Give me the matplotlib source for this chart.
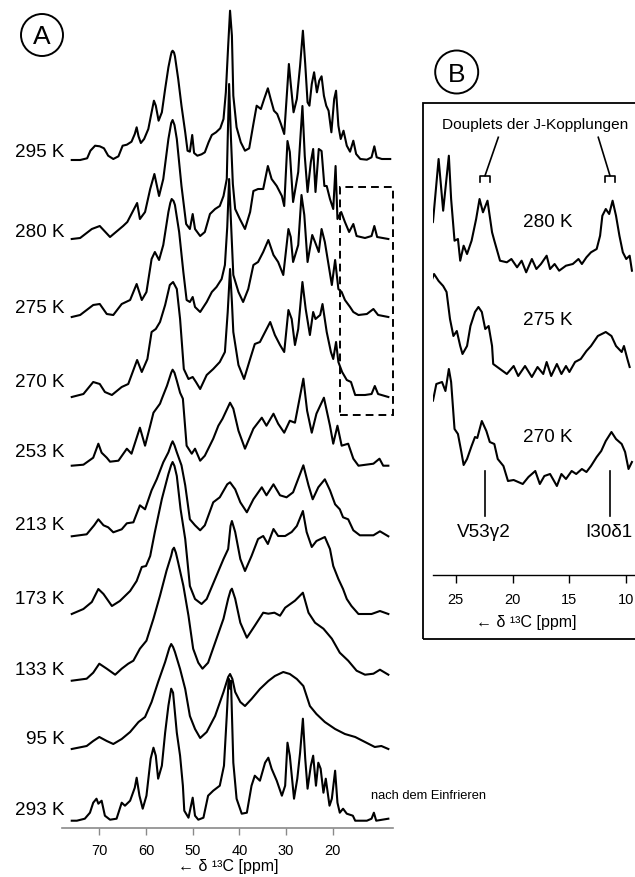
"""
Temperature series of 13C CP-MAS spectra (panel A) with zoomed methyl region (panel B).
"""
import matplotlib
matplotlib.use("Agg")
import matplotlib.pyplot as plt
from matplotlib.patches import Ellipse, Rectangle

plt.rcParams["font.family"] = ["Liberation Sans", "DejaVu Sans"]

# Data: (ppm, intensity), panel A
spec_295 = [(75.9, 0), (74.1, 0), (72.6, 1.7), (71.9, 9.3), (70.9, 14.3), (69.9, 13.7), (69.0, 11.7),
            (68.1, 4.3), (67.0, 1), (65.9, 3.7), (65.0, 14.3), (64.1, 15.3), (63.1, 18.3), (62.4, 26),
            (62.0, 32.7), (61.6, 23.7), (61.1, 17), (60.4, 21), (59.5, 31), (58.8, 47.7), (58.3, 59.3),
            (57.9, 54.3), (57.3, 39.3), (56.6, 47.7), (55.9, 71), (55.2, 92.7), (54.7, 104.3), (54.5, 108),
            (54.3, 109.3), (54.0, 107.5), (53.8, 103.7), (53.1, 81), (52.4, 54.3), (51.6, 27.7), (51.1, 9.3),
            (50.6, 8.3), (50.1, 25), (49.7, 7), (49.0, 4.3), (48.1, 5.7), (47.4, 7.7), (46.6, 17.7),
            (45.9, 25), (45.0, 27.7), (44.1, 31.7), (43.4, 41), (42.9, 67.7), (42.4, 114.3), (42.0, 149.3),
            (41.6, 124.3), (41.3, 64.3), (40.6, 32.7), (39.7, 17.7), (38.8, 9.3), (37.9, 11.7), (37.0, 36),
            (36.3, 54.3), (35.4, 51), (34.7, 61), (33.9, 71.7), (33.3, 61), (32.6, 49.3), (31.9, 46),
            (31.1, 36), (30.4, 26), (29.9, 61), (29.4, 96), (29.0, 76), (28.4, 47.7), (27.7, 61), (27.0, 94.3),
            (26.4, 129.3), (25.9, 96), (25.4, 57.7), (25.0, 54.3), (24.5, 76), (24.0, 87.7), (23.4, 67.7),
            (22.9, 79.3), (22.4, 83.7), (21.9, 64.3), (21.4, 54.3), (20.9, 49.3), (20.3, 27.7), (19.7, 61),
            (19.3, 69.3), (18.8, 34.3), (18.3, 21), (17.7, 29.3), (17.0, 14.3), (16.3, 8.3), (15.6, 19.3),
            (15.0, 6), (14.1, 1), (12.7, 0.3), (11.7, 2.7), (11.1, 13.7), (10.6, 2.7), (9.5, 1), (7.7, 1)]

spec_280 = [(75.9, 0), (74.1, 1), (71.6, 10), (69.9, 13), (67.7, 2), (64.9, 13), (64.0, 17), (61.9, 36),
            (61.3, 20), (60.2, 27), (59.1, 50), (58.2, 65), (57.2, 43), (56.3, 60), (55.2, 100), (54.6, 116),
            (54.3, 119), (53.9, 114), (53.4, 100), (52.4, 53), (51.4, 15), (50.6, 10), (50.0, 25), (49.5, 10),
            (48.4, 3), (47.4, 7), (46.3, 25), (45.2, 30), (44.2, 33), (43.4, 43), (42.7, 60), (42.5, 100),
            (42.2, 155), (41.8, 100), (41.4, 55), (40.9, 30), (39.9, 20), (38.8, 10), (37.7, 27), (37.0, 48),
            (36.0, 50), (34.9, 50), (33.9, 73), (33.1, 60), (32.0, 53), (30.9, 43), (30.4, 33), (29.7, 98),
            (29.2, 87), (28.5, 37), (27.4, 67), (26.5, 133), (26.0, 83), (25.4, 47), (24.7, 77), (24.2, 90),
            (23.7, 47), (23.0, 90), (22.4, 88), (21.8, 53), (21.3, 53), (20.6, 40), (19.9, 30), (19.4, 73),
            (19.0, 20), (18.2, 27), (17.4, 17), (16.5, 7), (15.6, 15), (14.9, 3), (13.1, 1), (11.7, 3),
            (11.1, 13), (10.5, 2), (8.1, 0)]

spec_275 = [(75.9, 0), (74.1, 2), (71.3, 12), (69.9, 13), (68.4, 3), (67.0, 2), (65.2, 13), (63.4, 17),
            (62.0, 33), (60.9, 17), (59.9, 25), (58.8, 58), (58.1, 65), (57.2, 57), (56.3, 72), (55.2, 105),
            (54.8, 114), (54.5, 118), (54.1, 116), (53.8, 112), (52.9, 85), (52.0, 45), (51.3, 17), (50.6, 15),
            (50.0, 20), (49.5, 10), (48.4, 5), (47.0, 15), (45.9, 25), (44.9, 30), (43.8, 38), (43.1, 52),
            (42.6, 90), (42.2, 138), (41.8, 95), (41.3, 42), (40.2, 25), (39.2, 15), (38.1, 28), (37.0, 52),
            (36.0, 55), (34.9, 65), (33.8, 77), (32.7, 62), (31.7, 55), (30.6, 42), (29.5, 88), (29.0, 80),
            (28.5, 55), (27.4, 72), (26.7, 122), (26.1, 102), (25.4, 55), (24.4, 82), (23.8, 75), (23.0, 65),
            (22.4, 88), (21.7, 75), (21.0, 55), (20.2, 32), (19.5, 57), (18.8, 28), (18.1, 25), (17.4, 17),
            (16.3, 10), (15.6, 5), (14.5, 2), (12.7, 3), (11.3, 8), (10.3, 2), (8.1, 0)]

spec_270 = [(75.9, 0), (73.4, 3), (71.3, 15), (69.9, 13), (68.8, 5), (67.3, 2), (65.2, 10), (63.8, 13),
            (61.9, 37), (60.9, 25), (59.7, 38), (58.8, 65), (57.9, 68), (57.0, 75), (55.9, 92), (54.9, 112),
            (54.2, 115), (53.4, 108), (52.7, 78), (51.9, 28), (50.9, 18), (50.0, 20), (49.3, 15), (48.4, 8),
            (47.0, 22), (45.6, 28), (44.2, 35), (43.1, 45), (42.5, 85), (42.0, 128), (41.6, 95), (41.3, 65),
            (40.2, 32), (39.0, 18), (37.7, 38), (36.7, 53), (35.6, 55), (34.5, 65), (33.4, 75), (32.4, 62),
            (31.3, 52), (30.4, 45), (29.5, 87), (28.8, 78), (28.1, 52), (27.4, 68), (26.5, 115), (25.8, 88),
            (24.9, 62), (24.2, 85), (23.7, 78), (22.7, 82), (22.2, 93), (21.3, 65), (20.4, 45), (19.9, 38),
            (19.3, 55), (18.8, 35), (18.0, 25), (17.0, 17), (16.1, 15), (15.2, 2), (13.1, 2), (11.7, 3),
            (11.0, 11), (10.3, 3), (8.1, 0)]

spec_253 = [(75.9, 0), (73.4, 1), (71.3, 8), (70.2, 22), (69.5, 13), (68.4, 8), (67.7, 4), (65.9, 5),
            (64.1, 17), (63.1, 12), (61.3, 38), (60.2, 20), (59.1, 40), (58.4, 53), (57.0, 62), (56.6, 67),
            (55.5, 80), (54.6, 93), (54.3, 96), (53.9, 93), (53.4, 85), (52.7, 73), (52.1, 67), (51.3, 20),
            (50.2, 12), (49.5, 17), (48.4, 5), (47.4, 10), (45.6, 27), (44.5, 40), (43.6, 47), (42.0, 63),
            (41.3, 57), (40.2, 35), (38.8, 17), (37.0, 37), (35.2, 48), (34.2, 40), (32.7, 52), (31.7, 42),
            (30.4, 33), (29.2, 45), (28.1, 43), (26.3, 87), (25.5, 55), (24.5, 33), (23.5, 52), (21.9, 68),
            (20.6, 40), (19.9, 22), (19.0, 40), (18.1, 20), (16.7, 22), (15.6, 7), (14.5, 0), (11.3, 2),
            (10.0, 7), (9.2, 0), (8.1, 0)]

spec_213 = [(75.9, 0), (72.7, 2), (71.1, 11), (70.2, 17), (69.1, 11), (68.1, 9), (67.0, 4), (65.2, 7),
            (64.1, 13), (62.7, 14), (61.3, 31), (60.2, 27), (58.8, 46), (57.7, 57), (56.3, 74), (55.2, 84),
            (54.6, 92), (54.3, 95), (53.9, 91), (53.4, 84), (52.4, 71), (51.6, 51), (50.6, 17), (49.5, 11),
            (48.4, 6), (47.4, 11), (45.6, 34), (44.2, 39), (42.6, 52), (42.0, 54), (40.9, 47), (39.8, 34),
            (38.4, 24), (37.0, 37), (35.2, 49), (34.2, 41), (32.7, 52), (31.3, 41), (29.9, 39), (28.5, 44),
            (26.3, 71), (25.2, 51), (24.3, 37), (23.1, 49), (21.7, 57), (20.6, 46), (19.5, 32), (18.5, 27),
            (17.8, 19), (16.7, 17), (15.6, 6), (14.2, 1), (11.3, 1), (9.9, 5), (8.1, 0)]

spec_173 = [(75.9, 0), (73.4, 5), (71.6, 12), (70.2, 25), (69.1, 20), (67.3, 8), (65.6, 13), (63.4, 23),
            (62.0, 33), (60.9, 47), (60.0, 48), (59.1, 58), (58.1, 82), (56.6, 115), (55.2, 140), (54.6, 149),
            (54.3, 152), (53.9, 148), (53.4, 138), (52.6, 105), (51.6, 75), (50.6, 28), (49.5, 15), (48.1, 10),
            (47.0, 15), (45.2, 35), (43.4, 55), (42.4, 65), (41.9, 88), (41.6, 93), (40.9, 82), (39.8, 55),
            (38.8, 43), (37.4, 58), (36.0, 75), (34.9, 78), (33.9, 70), (32.7, 85), (31.7, 78), (30.2, 78),
            (28.8, 82), (27.7, 88), (26.4, 103), (25.6, 82), (24.5, 67), (23.5, 73), (21.7, 77), (20.6, 65),
            (19.9, 48), (18.8, 35), (17.8, 25), (17.0, 15), (16.0, 8), (14.5, 0), (11.7, 0), (9.9, 3),
            (8.1, 0)]

spec_133 = [(75.9, 0), (72.7, 2), (71.3, 8), (70.0, 17), (68.4, 12), (66.6, 6), (65.2, 12), (63.8, 17),
            (62.7, 20), (61.3, 32), (59.9, 40), (58.4, 62), (57.0, 85), (55.6, 110), (54.6, 125), (54.3, 131),
            (54.0, 133), (53.6, 128), (53.1, 118), (52.0, 95), (50.9, 65), (49.9, 32), (48.8, 18), (47.9, 12),
            (46.7, 18), (44.9, 42), (43.4, 62), (42.4, 82), (41.9, 90), (41.6, 92), (40.9, 82), (39.8, 58),
            (38.4, 43), (36.7, 55), (34.9, 68), (33.8, 67), (32.5, 68), (31.3, 65), (30.2, 73), (28.1, 80),
            (26.4, 88), (25.2, 68), (23.8, 58), (22.0, 52), (20.2, 42), (18.5, 28), (16.7, 20), (14.9, 10),
            (13.1, 6), (11.3, 7), (9.9, 11), (8.1, 6)]

spec_95 = [(75.9, 0), (72.7, 3), (71.3, 8), (70.0, 12), (68.4, 8), (67.0, 5), (65.2, 10), (63.4, 17),
           (61.6, 27), (60.2, 32), (58.8, 47), (57.4, 67), (55.9, 87), (55.0, 101), (54.6, 105), (54.2, 102),
           (53.8, 97), (52.7, 80), (51.6, 60), (50.6, 33), (49.5, 20), (48.4, 11), (47.0, 17), (45.2, 33),
           (43.4, 57), (42.4, 72), (42.0, 75), (41.5, 70), (40.9, 57), (39.8, 47), (38.8, 43), (37.4, 50),
           (35.6, 60), (33.8, 68), (32.4, 73), (30.6, 77), (29.2, 75), (27.7, 70), (26.3, 63), (24.9, 43),
           (23.5, 35), (21.7, 27), (19.5, 20), (17.4, 15), (15.2, 12), (13.1, 7), (11.0, 2), (9.6, 3),
           (8.1, 0)]

spec_293 = [(75.9, 0), (74.8, 0), (73.1, 2), (72.0, 8), (71.3, 18), (70.6, 22), (70.2, 17), (69.5, 20),
            (68.8, 5), (67.7, 1), (66.3, 2), (65.2, 18), (64.5, 15), (63.4, 20), (62.4, 33), (62.0, 43),
            (61.4, 25), (60.7, 12), (59.9, 25), (59.0, 62), (58.4, 73), (57.9, 65), (57.4, 42), (56.6, 55),
            (55.9, 88), (55.2, 115), (54.6, 132), (54.2, 128), (53.4, 88), (52.7, 65), (52.1, 35), (51.8, 10),
            (50.9, 3), (50.0, 23), (49.5, 5), (48.8, 1), (47.7, 3), (46.7, 25), (45.6, 30), (44.2, 35),
            (43.3, 55), (42.7, 105), (42.3, 142), (42.0, 132), (41.8, 140), (41.3, 58), (40.6, 22), (39.5, 7),
            (38.4, 8), (37.4, 35), (36.7, 45), (35.6, 40), (34.5, 58), (33.8, 63), (33.1, 52), (32.0, 40),
            (30.9, 25), (30.2, 35), (29.7, 78), (29.2, 65), (28.3, 22), (27.6, 42), (27.0, 68), (26.4, 102),
            (25.9, 62), (25.4, 32), (24.7, 55), (24.2, 65), (23.6, 35), (23.1, 58), (22.6, 52), (22.0, 28),
            (21.5, 42), (20.7, 15), (20.2, 22), (19.5, 50), (19.0, 18), (18.5, 8), (17.8, 12), (17.0, 7),
            (15.7, 5), (15.2, 0), (12.7, 0), (11.7, 2), (11.2, 8), (10.7, 0), (8.1, 2)]

temps_a = ["295 K", "280 K", "275 K", "270 K", "253 K", "213 K", "173 K", "133 K", "95 K", "293 K"]
ticks_a = [70, 60, 50, 40, 30, 20]

# Data: panel B, zoomed 27-9.5 ppm region
spec_b280 = [(27.3, 91.7), (27.0, 51.7), (26.5, 115), (26.1, 63.3), (25.6, 118.3), (25.4, 75), (25.1, 33.3),
             (24.8, 35), (24.6, 13.3), (24.3, 28.3), (24.0, 20), (23.6, 33.3), (23.2, 55), (22.9, 75),
             (22.6, 61.7), (22.2, 73.3), (21.8, 41.7), (21.6, 33.3), (21.1, 13.3), (20.5, 11.7), (20.1, 15),
             (19.6, 6.7), (19.2, 13.3), (18.8, 1.7), (18.3, 15), (17.9, 5), (17.5, 10), (17.0, 18.3),
             (16.7, 5), (16.3, 10), (15.9, 3.3), (15.3, 8.3), (14.7, 10), (14.2, 15), (13.9, 10), (13.5, 16.7),
             (13.1, 21.7), (12.6, 25), (12.3, 38.3), (12.1, 58.3), (11.8, 65), (11.5, 60), (11.2, 73.3),
             (10.9, 58.3), (10.6, 38.3), (10.3, 21.7), (10.0, 15), (9.7, 18.3), (9.5, 3.3)]

spec_b275 = [(27.3, 93), (26.9, 105), (26.5, 98), (26.1, 93), (25.8, 87), (25.5, 60), (25.2, 43), (24.9, 48),
             (24.6, 33), (24.4, 25), (24.0, 33), (23.7, 53), (23.3, 67), (23.0, 72), (22.7, 67), (22.4, 50),
             (22.1, 53), (21.8, 33), (21.7, 15), (21.1, 10), (20.5, 5), (19.9, 13), (19.5, 3), (18.9, 13),
             (18.3, 2), (17.8, 12), (17.3, 5), (17.0, 17), (16.6, 3), (16.1, 15), (15.7, 5), (15.3, 13),
             (15.0, 7), (14.5, 17), (14.0, 20), (13.5, 28), (13.1, 33), (12.5, 43), (11.8, 47), (11.3, 43),
             (10.9, 33), (10.4, 27), (10.2, 33), (9.9, 20), (9.7, 12)]

spec_b270 = [(27.3, 97), (27.0, 88), (26.7, 105), (26.2, 107), (25.9, 98), (25.6, 120), (25.4, 107),
             (25.1, 60), (24.8, 55), (24.5, 37), (24.3, 24), (24.0, 30), (23.6, 43), (23.3, 52), (23.1, 51),
             (22.7, 68), (22.3, 58), (22.0, 47), (21.6, 45), (21.3, 30), (20.8, 23), (20.4, 8), (19.9, 9),
             (19.5, 7), (19.1, 5), (18.6, 12), (18.0, 18), (17.6, 5), (17.2, 13), (16.7, 15), (16.1, 3),
             (15.7, 15), (15.3, 10), (14.8, 18), (14.4, 15), (13.9, 20), (13.5, 17), (13.1, 23), (12.6, 32),
             (12.2, 38), (11.8, 48), (11.3, 57), (10.9, 50), (10.4, 45), (10.1, 37), (9.8, 20), (9.5, 27)]

temps_b = ["280 K", "275 K", "270 K"]
ticks_b = [25, 20, 15, 10]

# Figure set up (pixel helpers)
W, H = 635, 878
fig = plt.figure(figsize=(W / 100, H / 100), dpi=100)


def px_box(left, top, right, bottom):
    return [left / W, 1 - bottom / H, (right - left) / W, (bottom - top) / H]


def fx(x):
    return x / W


def fy(y):
    return 1 - y / H


# Panel A
ax_a = fig.add_axes(px_box(61.7, 0, 393.3, 829))
ax_a.set_xlim(78.05, 7.04)
ax_a.set_ylim(0, 829)

spectra_a = [spec_295, spec_280, spec_275, spec_270, spec_253,
             spec_213, spec_173, spec_133, spec_95, spec_293]
offsets_a = [668, 589, 511, 431, 362.3, 291.7, 214, 147.3, 79, 7.3]
label_base_a = [157, 237, 313, 387, 457, 530, 604, 675, 744, 815]

for spec, off, temp, yb in zip(spectra_a, offsets_a, temps_a, label_base_a):
    ppm, inten = zip(*spec)
    ax_a.plot(ppm, [v + off for v in inten], color="black", lw=1.5,
              solid_joinstyle="round", clip_on=False)
    fig.text(fx(64.5), fy(yb), temp, ha="right", va="baseline", fontsize=13.6)

# Dashed box marking the region of panel B
ax_a.add_patch(Rectangle((18.46, 413), 7.2 - 18.46, 640.7 - 413, fill=False,
                         ec="black", lw=1.4, ls=(0, (4, 2.6)), clip_on=False))

for side in ["left", "right", "top"]:
    ax_a.spines[side].set_visible(False)
ax_a.spines["bottom"].set_color("#8a8a8a")
ax_a.spines["bottom"].set_linewidth(1.2)
ax_a.set_yticks([])
ax_a.set_xticks(ticks_a)
ax_a.tick_params(axis="x", direction="out", length=4.8, width=1, color="#8a8a8a",
                 labelsize=10.5, pad=6)
ax_a.patch.set_visible(False)

fig.text(fx(228.3), fy(871), "\u2190 \u03b4 \u00b9\u00b3C [ppm]", ha="center",
         va="baseline", fontsize=11.5)
fig.text(fx(370.7), fy(799), "nach dem Einfrieren", ha="left", va="baseline", fontsize=9.3)

# Panel letters
fig.patches.append(Ellipse((fx(42), fy(36)), 42 / W, 42 / H, transform=fig.transFigure,
                           fill=False, ec="black", lw=1.4))
fig.text(fx(41.5), fy(44.5), "A", ha="center", va="baseline", fontsize=19)
fig.patches.append(Ellipse((fx(456.7), fy(73)), 43 / W, 43 / H, transform=fig.transFigure,
                           fill=False, ec="black", lw=1.4))
fig.text(fx(456.7), fy(82), "B", ha="center", va="baseline", fontsize=19)

# Panel B frame
fig.patches.append(Rectangle((fx(423), fy(640)), (650 - 423) / W, (640 - 104) / H,
                             transform=fig.transFigure, fill=False, ec="black", lw=1.3))

# Panel B
ax_b = fig.add_axes(px_box(432.7, 104, 640, 575.5))
ax_b.set_xlim(27.02, 8.79)
ax_b.set_ylim(0, 471.5)

spectra_b = [spec_b280, spec_b275, spec_b270]
offsets_b = [300.5, 195.5, 85.5]
label_base_b = [348.8, 250.5, 133.8]
for spec, off, temp, yb in zip(spectra_b, offsets_b, temps_b, label_base_b):
    ppm, inten = zip(*spec)
    ax_b.plot(ppm, [v + off for v in inten], color="black", lw=1.5, solid_joinstyle="round")
    ax_b.text(16.88, yb, temp, ha="center", va="baseline", fontsize=13.6)

# Residue assignments
ax_b.plot([22.42, 22.42], [58.5, 103.5], color="black", lw=1.2)
ax_b.plot([11.43, 11.43], [58.5, 103.5], color="black", lw=1.2)
ax_b.text(22.51, 38.8, "V53\u03b32", ha="center", va="baseline", fontsize=13.6)
ax_b.text(11.52, 38.8, "I30\u03b41", ha="center", va="baseline", fontsize=13.6)

# Doublet annotation
ax_b.text(26.2, 446.2, "Douplets der J-Kopplungen", ha="left", va="baseline", fontsize=11.1)
ax_b.plot([21.25, 22.42], [437.2, 398.8], color="black", lw=1.2)
ax_b.plot([12.46, 11.43], [437.2, 398.8], color="black", lw=1.2)
ax_b.plot([22.86, 22.86, 21.98, 21.98], [392.8, 398.8, 398.8, 392.8], color="black", lw=1.2)
ax_b.plot([11.87, 11.87, 10.99, 10.99], [392.8, 398.8, 398.8, 392.8], color="black", lw=1.2)

for side in ["left", "right", "top"]:
    ax_b.spines[side].set_visible(False)
ax_b.spines["bottom"].set_linewidth(1)
ax_b.set_yticks([])
ax_b.set_xticks(ticks_b)
ax_b.tick_params(axis="x", direction="out", length=5.8, width=1, labelsize=10.5, pad=6.5)
ax_b.patch.set_visible(False)

fig.text(fx(526.7), fy(627), "\u2190 \u03b4 \u00b9\u00b3C [ppm]", ha="center",
         va="baseline", fontsize=11.5)

fig.savefig("out.png", dpi=100, facecolor="white")
